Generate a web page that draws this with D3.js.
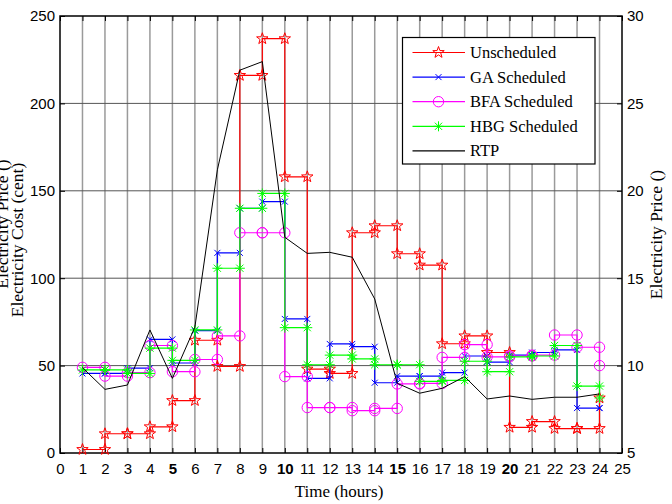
<!DOCTYPE html>
<html>
<head>
<meta charset="utf-8">
<script src="https://cdn.jsdelivr.net/npm/d3@7"></script>
<style>
  html, body { margin: 0; padding: 0; background: #fff; }
  svg { display: block; }
  .tick text { font-family: "Liberation Sans", Arial, sans-serif; font-size: 15px; fill: #000; }
  .title { font-family: "Liberation Serif", "Times New Roman", serif; fill: #000; }
</style>
</head>
<body>
<svg id="chart" width="672" height="504"></svg>
<script>
// Hourly electricity cost (cent) for each schedule, and real-time price
const hours = [1, 2, 3, 4, 5, 6, 7, 8, 9, 10, 11, 12, 13, 14, 15, 16, 17, 18, 19, 20, 21, 22, 23, 24];
const unscheduled = [2, 11, 11, 15, 30, 64.5, 49.5, 216, 237, 158, 48, 45.5, 126, 130, 114, 107.5, 62.5, 67, 57.5, 14.7, 18, 14, 14, 31.5];
const gaScheduled = [45.5, 45.5, 48.5, 65, 51.5, 70, 114.5, 140, 143.8, 76.7, 42.7, 62.4, 60.8, 40.2, 44, 44, 46, 55.5, 52, 56, 57.5, 59, 25.7, 25.7];
const bfaScheduled = [49, 44, 46, 61.5, 46.5, 53.5, 67, 126, 126, 43.7, 26, 26, 24.2, 25.5, 39.5, 39.8, 54.7, 62, 55, 55.5, 56, 67.5, 60.5, 50];
const hbgScheduled = [47.5, 47.5, 45.5, 60, 53, 70.4, 105.7, 140, 148.5, 71.7, 50.5, 56, 53.8, 50.5, 50.5, 41, 41.5, 52.5, 46.5, 55, 55.5, 61.5, 38.3, 31.5];
const rtp = [9.88, 8.64, 8.89, 12.04, 9.27, 12.2, 21.2, 26.9, 27.39, 17.34, 16.42, 16.48, 16.2, 13.81, 8.99, 8.42, 8.7, 9.37, 8.09, 8.26, 8.07, 8.19, 8.19, 8.38];

const xTicks = d3.range(0, 26);
const costTicks = [0, 50, 100, 150, 200, 250];
const priceTicks = [5, 10, 15, 20, 25, 30];
const boldHours = [5, 10, 15, 20];

const seriesNames = ["Unscheduled", "GA Scheduled", "BFA Scheduled", "HBG Scheduled", "RTP"];
const seriesColors = ["#ff0000", "#0000ff", "#ff00ff", "#00ff00", "#000000"];
const seriesMarkers = ["star", "x", "circle", "asterisk", null];

const svg = d3.select("#chart");
const plotLeft = 60, plotRight = 622, plotTop = 16, plotBottom = 453;

const x = d3.scaleLinear().domain([0, 25]).range([plotLeft, plotRight]);
const yCost = d3.scaleLinear().domain([0, 250]).range([plotBottom, plotTop]);
const yPrice = d3.scaleLinear().domain([5, 30]).range([plotBottom, plotTop]);

// grid
const grid = svg.append("g");
grid.selectAll("line.v").data(xTicks.filter(d => d > 0 && d < 25)).join("line")
  .attr("x1", d => x(d)).attr("x2", d => x(d))
  .attr("y1", plotTop).attr("y2", plotBottom)
  .attr("stroke", "#9a9a9a").attr("stroke-width", 1.5);
grid.selectAll("line.h").data(costTicks.filter(d => d > 0 && d < 250)).join("line")
  .attr("x1", plotLeft).attr("x2", plotRight)
  .attr("y1", d => yCost(d)).attr("y2", d => yCost(d))
  .attr("stroke", "#555").attr("stroke-width", 1);

// axes (ticks point inward)
const xAxis = svg.append("g").attr("transform", `translate(0,${plotBottom})`)
  .call(d3.axisBottom(x).tickValues(xTicks).tickFormat(d3.format("d")).tickSizeInner(-5).tickSizeOuter(0).tickPadding(10));
xAxis.selectAll(".tick text").style("font-weight", d => boldHours.includes(d) ? "bold" : "normal");
svg.append("g").attr("transform", `translate(0,${plotTop})`)
  .call(d3.axisTop(x).tickValues(xTicks).tickFormat("").tickSizeInner(-5).tickSizeOuter(0));
svg.append("g").attr("transform", `translate(${plotLeft},0)`)
  .call(d3.axisLeft(yCost).tickValues(costTicks).tickSizeInner(-5).tickSizeOuter(0).tickPadding(5));
svg.append("g").attr("transform", `translate(${plotRight},0)`)
  .call(d3.axisRight(yPrice).tickValues(priceTicks).tickSizeInner(-5).tickSizeOuter(0).tickPadding(5));
svg.selectAll(".domain").remove();
svg.selectAll(".tick line").attr("stroke", "#000");

// frame
svg.append("rect").attr("x", plotLeft).attr("y", plotTop)
  .attr("width", plotRight - plotLeft).attr("height", plotBottom - plotTop)
  .attr("fill", "none").attr("stroke", "#000").attr("stroke-width", 1.5);

// marker shapes
function starPath(r) {
  const pts = [];
  for (let i = 0; i < 10; i++) {
    const rad = i % 2 === 0 ? r : r * 0.4;
    const a = -Math.PI / 2 + i * Math.PI / 5;
    pts.push([rad * Math.cos(a), rad * Math.sin(a)]);
  }
  return "M" + pts.map(p => p.join(",")).join("L") + "Z";
}
function drawMarker(g, type, color, cx, cy) {
  const m = g.append("g").attr("transform", `translate(${cx},${cy})`)
    .attr("fill", "none").attr("stroke", color).attr("stroke-width", 1);
  if (type === "star") m.append("path").attr("d", starPath(6));
  else if (type === "circle") m.append("circle").attr("r", 5.2);
  else if (type === "x") m.append("path").attr("d", "M-3,-3L3,3M-3,3L3,-3");
  else if (type === "asterisk") m.append("path").attr("d", "M-5,0L5,0M0,-5L0,5M-3.6,-3.6L3.6,3.6M-3.6,3.6L3.6,-3.6");
}

// stair vertices: value i holds from hour i to hour i+1
function stairs(values) {
  const pts = [];
  values.forEach((v, i) => {
    pts.push([hours[i], v]);
    if (i < values.length - 1) pts.push([hours[i + 1], v]);
  });
  return pts;
}

const plot = svg.append("g");
const costSeries = [unscheduled, gaScheduled, bfaScheduled, hbgScheduled];
costSeries.forEach((vals, k) => {
  const pts = stairs(vals);
  const line = d3.line().x(d => x(d[0])).y(d => yCost(d[1]));
  plot.append("path").datum(pts).attr("d", line)
    .attr("fill", "none").attr("stroke", seriesColors[k]).attr("stroke-width", 1.2);
  const mg = plot.append("g");
  pts.forEach(p => drawMarker(mg, seriesMarkers[k], seriesColors[k], x(p[0]), yCost(p[1])));
});

// real-time price on the right axis
plot.append("path").datum(rtp)
  .attr("d", d3.line().x((d, i) => x(hours[i])).y(d => yPrice(d)))
  .attr("fill", "none").attr("stroke", "#000").attr("stroke-width", 1);

// legend
const lg = svg.append("g");
lg.append("rect").attr("x", 402.5).attr("y", 37.5).attr("width", 192.5).attr("height", 126.5)
  .attr("fill", "#fff").attr("stroke", "#000").attr("stroke-width", 1.2);
seriesNames.forEach((name, k) => {
  const cy = 52.5 + k * 24.6;
  lg.append("line").attr("x1", 412.5).attr("x2", 465).attr("y1", cy).attr("y2", cy)
    .attr("stroke", seriesColors[k]).attr("stroke-width", 1.2);
  if (seriesMarkers[k]) drawMarker(lg, seriesMarkers[k], seriesColors[k], 438.5, cy);
  lg.append("text").attr("class", "title").attr("x", 470).attr("y", cy + 5.5)
    .style("font-size", "16.5px").text(name);
});

// axis titles
svg.append("text").attr("class", "title").attr("x", 339).attr("y", 497)
  .attr("text-anchor", "middle").style("font-size", "17px").text("Time (hours)");
svg.append("text").attr("class", "title")
  .attr("transform", "translate(23,240) rotate(-90)")
  .attr("text-anchor", "middle").style("font-size", "17.5px").text("Electricity Cost (cent)");
svg.append("text").attr("class", "title")
  .attr("transform", "translate(8,224) rotate(-90)")
  .attr("text-anchor", "middle").style("font-size", "17.5px").text("Electricity Price ()");
svg.append("text").attr("class", "title")
  .attr("transform", "translate(662,234.5) rotate(-90)")
  .attr("text-anchor", "middle").style("font-size", "17.5px").text("Electricity Price ()");
</script>
</body>
</html>
